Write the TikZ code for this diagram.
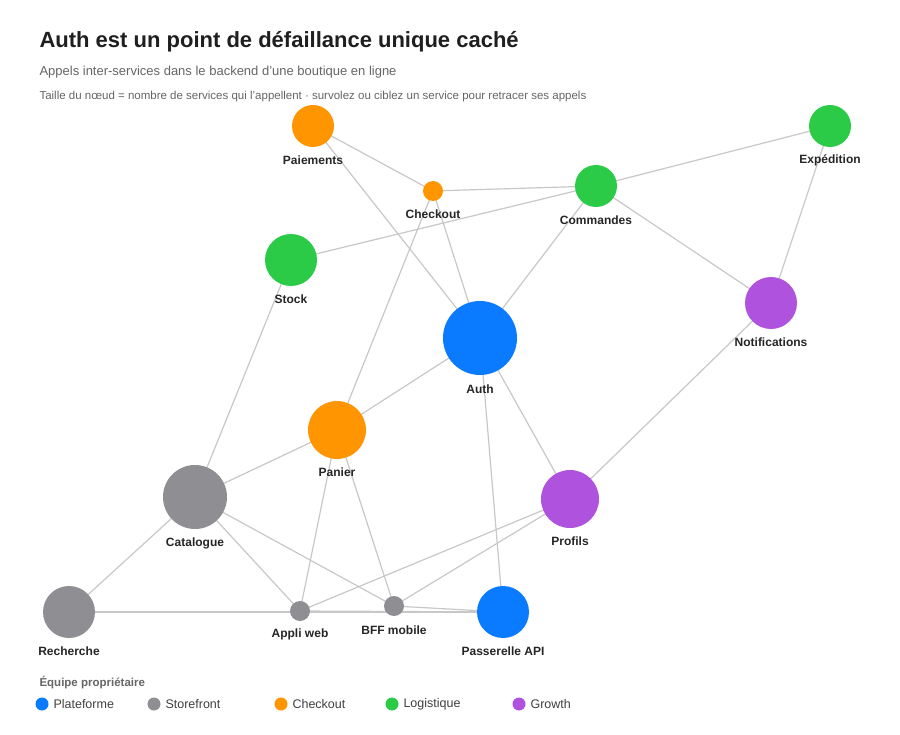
\documentclass[tikz,border=0pt]{standalone}
\usepackage{fontspec}
\setmainfont{Liberation Sans}
\definecolor{cblue}{HTML}{0A7BFF}
\definecolor{cgray}{HTML}{8E8E93}
\definecolor{corange}{HTML}{FF9500}
\definecolor{cgreen}{HTML}{2BCB48}
\definecolor{cpurple}{HTML}{AF52DE}
\definecolor{edge}{HTML}{C8C8C8}
\begin{document}
\begin{tikzpicture}[x=1pt,y=-1pt,
  svc/.style={circle,inner sep=0pt,minimum size=#1},
  lab/.style={font=\bfseries\fontsize{12}{14}\selectfont,text=black!85},
  e/.style={draw=edge,line width=1.2pt},
  leg/.style={font=\fontsize{12.5}{14}\selectfont,text=black!75,anchor=west}]
\useasboundingbox (0,0) rectangle (900,735);
\fill[white] (0,0) rectangle (900,735);
\node[anchor=west,font=\bfseries\fontsize{22}{26}\selectfont,text=black!88] (t) at (36,42) {Auth est un point de défaillance unique caché};
\node[anchor=west,font=\fontsize{13}{16}\selectfont,text=black!60] (s1) at (36,72) {Appels inter-services dans le backend d’une boutique en ligne};
\node[anchor=west,font=\fontsize{11.5}{14}\selectfont,text=black!60] (s2) at (36,97) {Taille du nœud = nombre de services qui l’appellent · survolez ou ciblez un service pour retracer ses appels};
\coordinate (Pai) at (313,126);
\coordinate (Che) at (433,191);
\coordinate (Com) at (596,186);
\coordinate (Exp) at (830,126);
\coordinate (Sto) at (291,260);
\coordinate (Aut) at (480,338);
\coordinate (Not) at (771,303);
\coordinate (Pan) at (337,430);
\coordinate (Cat) at (195,497);
\coordinate (Pro) at (570,499);
\coordinate (Rec) at (69,612);
\coordinate (App) at (300,611);
\coordinate (BFF) at (394,606);
\coordinate (Pas) at (503,612);
\foreach \a/\b in {Pai/Che,Pai/Aut,Che/Com,Che/Aut,Che/Pan,Com/Sto,Com/Exp,Com/Aut,Com/Not,Exp/Not,Sto/Cat,Aut/Pan,Aut/Pro,Aut/Pas,Not/Pro,Pan/Cat,Pan/App,Pan/BFF,Cat/Rec,Cat/App,Cat/BFF,Rec/Pas,App/Pas,BFF/Pas,Pro/App,Pro/BFF}
  \draw[e] (\a) -- (\b);
\node[svc=42pt,fill=corange] (nPai) at (Pai) {};
\node[svc=20pt,fill=corange] (nChe) at (Che) {};
\node[svc=42pt,fill=cgreen] (nCom) at (Com) {};
\node[svc=42pt,fill=cgreen] (nExp) at (Exp) {};
\node[svc=52pt,fill=cgreen] (nSto) at (Sto) {};
\node[svc=74pt,fill=cblue] (nAut) at (Aut) {};
\node[svc=52pt,fill=cpurple] (nNot) at (Not) {};
\node[svc=58pt,fill=corange] (nPan) at (Pan) {};
\node[svc=64pt,fill=cgray] (nCat) at (Cat) {};
\node[svc=58pt,fill=cpurple] (nPro) at (Pro) {};
\node[svc=52pt,fill=cgray] (nRec) at (Rec) {};
\node[svc=20pt,fill=cgray] (nApp) at (App) {};
\node[svc=20pt,fill=cgray] (nBFF) at (BFF) {};
\node[svc=52pt,fill=cblue] (nPas) at (Pas) {};
\node[lab] (lPai) at (313,160) {Paiements};
\node[lab] (lChe) at (433,214) {Checkout};
\node[lab] (lCom) at (596,220) {Commandes};
\node[lab] (lExp) at (830,160) {Expédition};
\node[lab] (lSto) at (291,299) {Stock};
\node[lab] (lAut) at (480,389) {Auth};
\node[lab] (lNot) at (771,342) {Notifications};
\node[lab] (lPan) at (337,472) {Panier};
\node[lab] (lCat) at (195,543) {Catalogue};
\node[lab] (lPro) at (570,541) {Profils};
\node[lab] (lRec) at (69,651) {Recherche};
\node[lab] (lApp) at (300,634) {Appli web};
\node[lab] (lBFF) at (394,630) {BFF mobile};
\node[lab] (lPas) at (503,651) {Passerelle API};
\node[anchor=west,font=\bfseries\fontsize{11.5}{14}\selectfont,text=black!60] (lt) at (36,683) {Équipe propriétaire};
\foreach \x/\c/\t in {42/cblue/Plateforme,154/cgray/Storefront,281/corange/Checkout,392/cgreen/Logistique,519/cpurple/Growth}{
  \node[svc=13pt,fill=\c] (d\t) at (\x,704) {};
  \node[leg] (t\t) at (\x+8,704) {\t};
}
\end{tikzpicture}
\end{document}
